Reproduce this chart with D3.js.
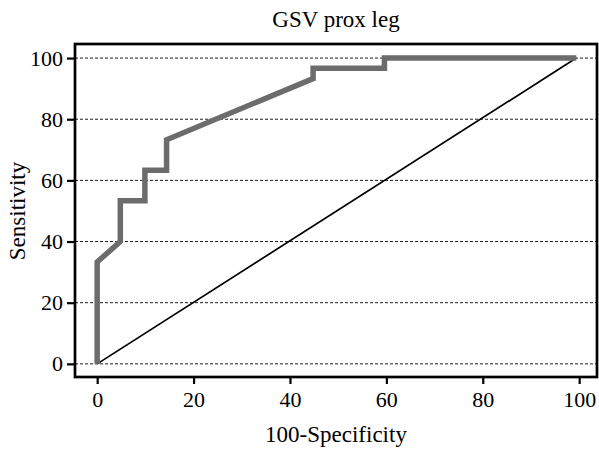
<!DOCTYPE html>
<html><head><meta charset="utf-8">
<script src="https://cdn.jsdelivr.net/npm/d3@7"></script>
<style>body{margin:0;background:#fff}svg{display:block}text{font-family:"Liberation Serif","Times New Roman",serif;fill:#000}</style>
</head><body>
<svg id="c" width="599" height="454"></svg>
<script>
const title = "GSV prox leg";
const xLabel = "100-Specificity";
const yLabel = "Sensitivity";
const rocX = [0, 0, 4.8, 4.8, 9.9, 9.9, 14.4, 14.4, 44.8, 44.8, 59.6, 59.6, 99.4];
const rocY = [0, 33.3, 40, 53.3, 53.3, 63.3, 63.3, 73.3, 93.3, 96.7, 96.7, 100, 100];
const refX = [0, 99.4];
const refY = [0, 100];
const xTicks = [0, 20, 40, 60, 80, 100];
const yTicks = [0, 20, 40, 60, 80, 100];

const svg = d3.select("#c");
const L = 75, R = 597, T = 44, B = 377;
const xs = d3.scaleLinear().domain([-4.6, 103.7]).range([L, R]);
const ys = d3.scaleLinear().domain([-4.3, 104.6]).range([B, T]);

// grid
svg.append("g").selectAll("line").data(yTicks).join("line")
  .attr("x1", L).attr("x2", R).attr("y1", d => ys(d)).attr("y2", d => ys(d))
  .attr("stroke", "#000").attr("stroke-width", 0.9).attr("stroke-dasharray", "3,2");

// reference diagonal
const line = d3.line().x(d => xs(d[0])).y(d => ys(d[1]));
svg.append("path").datum(refX.map((v, i) => [v, refY[i]])).attr("d", line)
  .attr("fill", "none").attr("stroke", "#000").attr("stroke-width", 1.7);

// ROC
svg.append("path").datum(rocX.map((v, i) => [v, rocY[i]])).attr("d", line)
  .attr("fill", "none").attr("stroke", "#6c6c6c").attr("stroke-width", 5.5).attr("stroke-linejoin", "miter");

// axes
const xa = svg.append("g").attr("transform", `translate(0,${B})`)
  .call(d3.axisBottom(xs).tickValues(xTicks).tickSize(7).tickPadding(7).tickSizeOuter(0));
const ya = svg.append("g").attr("transform", `translate(${L},0)`)
  .call(d3.axisLeft(ys).tickValues(yTicks).tickSize(8).tickPadding(4).tickSizeOuter(0));
[xa, ya].forEach(a => {
  a.select(".domain").remove();
  a.selectAll(".tick line").attr("stroke", "#000").attr("stroke-width", 2.2);
  a.selectAll(".tick text").attr("font-size", 22).attr("font-family", '"Liberation Serif",serif').attr("fill", "#000");
});

// frame
svg.append("rect").attr("x", L).attr("y", T).attr("width", R - L).attr("height", B - T)
  .attr("fill", "none").attr("stroke", "#000").attr("stroke-width", 2.7);

svg.append("text").attr("x", (L + R) / 2).attr("y", 27).attr("text-anchor", "middle")
  .attr("font-size", 23).text(title);
svg.append("text").attr("x", (L + R) / 2).attr("y", 442).attr("text-anchor", "middle")
  .attr("font-size", 23).text(xLabel);
svg.append("text").attr("transform", `translate(25,211) rotate(-90)`).attr("text-anchor", "middle")
  .attr("font-size", 23).text(yLabel);
</script>
</body></html>
